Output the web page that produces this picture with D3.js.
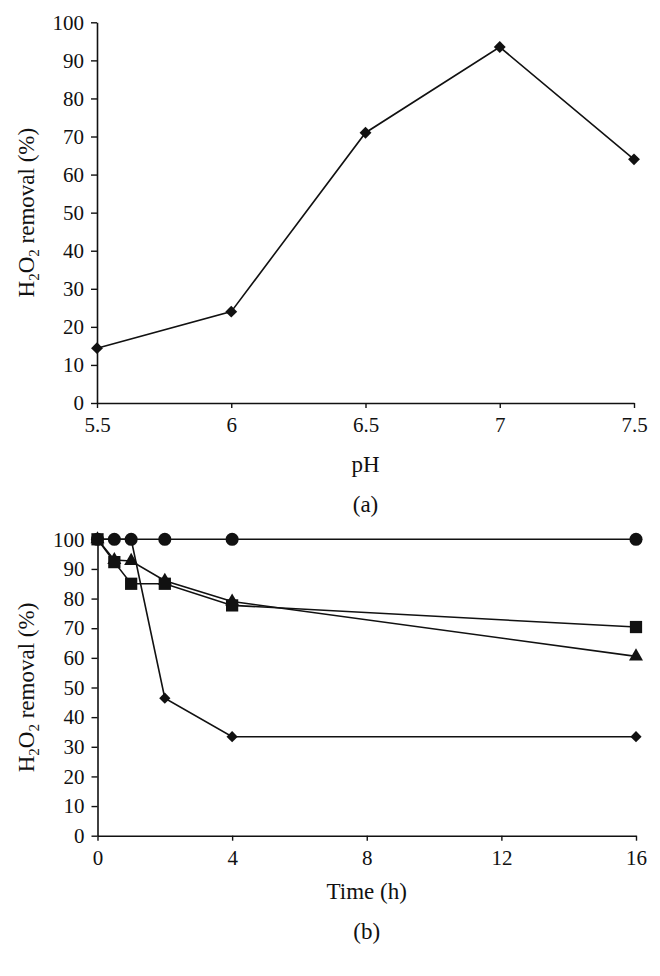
<!DOCTYPE html>
<html><head><meta charset="utf-8">
<script src="https://cdn.jsdelivr.net/npm/d3@7"></script>
<style>body{margin:0;background:#fff}svg{display:block}text{font-family:"Liberation Serif","Times New Roman",serif;fill:#111}</style>
</head><body>
<script>
// Panel (a)
const phValues = [5.5, 6, 6.5, 7, 7.5];
const phRemoval = [14.4, 24, 71, 93.5, 64];
const phTicks = ["5.5", "6", "6.5", "7", "7.5"];
// Panel (b)
const timeValues = [0, 0.5, 1, 2, 4, 16];
const seriesCircle = [100, 100, 100, 100, 100, 100];
const seriesSquare = [100, 92.3, 85, 85, 77.7, 70.4];
const seriesTriangle = [100, 93, 92.7, 86, 79, 60.5];
const seriesDiamond = [100, 100, 100, 46.4, 33.4, 33.4];
const timeTicks = [0, 4, 8, 12, 16];
const yTicks = [0, 10, 20, 30, 40, 50, 60, 70, 80, 90, 100];

const svg = d3.select("body").append("svg").attr("width", 660).attr("height", 976);
const ink = "#111";
const FONT = '"Liberation Serif", "Times New Roman", serif';

function axes(g, x, y, xTicks, xFmt, xLabel, panel, labelY, panelY, titleCx) {
  const ya = g.append("g").attr("transform", `translate(${x.range()[0]},0)`)
    .call(d3.axisLeft(y).tickValues(yTicks).tickSize(6).tickSizeOuter(0).tickPadding(7));
  const xa = g.append("g").attr("transform", `translate(0,${y.range()[0]})`)
    .call(d3.axisBottom(x).tickValues(xTicks).tickFormat(xFmt).tickSize(5).tickSizeOuter(0).tickPadding(9));
  [ya, xa].forEach(a => {
    a.attr("font-family", FONT).attr("font-size", 21);
    a.select(".domain").attr("stroke", ink).attr("stroke-width", 1.6);
    a.selectAll(".tick line").attr("stroke", ink).attr("stroke-width", 1.4);
    a.selectAll(".tick text").attr("fill", ink);
  });
  const cx = (x.range()[0] + x.range()[1]) / 2;
  g.append("text").attr("x", cx).attr("y", labelY).attr("text-anchor", "middle")
    .attr("font-size", 23).text(xLabel);
  g.append("text").attr("x", cx).attr("y", panelY).attr("text-anchor", "middle")
    .attr("font-size", 23).text(panel);
  const cy = (y.range()[0] + y.range()[1]) / 2;
  const t = g.append("text").attr("transform", `translate(${titleCx},${cy}) rotate(-90)`)
    .attr("text-anchor", "middle").attr("font-size", 23);
  t.append("tspan").text("H");
  t.append("tspan").attr("font-size", 15).attr("dy", 5).text("2");
  t.append("tspan").attr("dy", -5).text("O");
  t.append("tspan").attr("font-size", 15).attr("dy", 5).text("2");
  t.append("tspan").attr("dy", -5).text(" removal (%)");
}

// ---- Panel (a)
const xa = d3.scaleLinear().domain([5.5, 7.5]).range([97, 634]);
const ya = d3.scaleLinear().domain([0, 100]).range([403, 22.3]);
const ga = svg.append("g");
axes(ga, xa, ya, phValues, (d, i) => phTicks[i], "pH", "(a)", 472, 512, 34);
const dataA = phValues.map((v, i) => [v, phRemoval[i]]);
ga.append("path").datum(dataA)
  .attr("d", d3.line().x(d => xa(d[0])).y(d => ya(d[1])))
  .attr("fill", "none").attr("stroke", ink).attr("stroke-width", 1.6);
ga.selectAll(".dia").data(dataA).join("path")
  .attr("transform", d => `translate(${xa(d[0])},${ya(d[1])})`)
  .attr("d", d3.symbol(d3.symbolDiamond2, 90)).attr("fill", ink);

// ---- Panel (b)
const xb = d3.scaleLinear().domain([0, 16]).range([97.5, 636]);
const yb = d3.scaleLinear().domain([0, 100]).range([835.7, 539.3]);
const gb = svg.append("g");
axes(gb, xb, yb, timeTicks, d3.format("d"), "Time (h)", "(b)", 899, 939, 34);

const series = [
  {vals: seriesDiamond, sym: d3.symbolDiamond2, size: 80},
  {vals: seriesTriangle, sym: d3.symbolTriangle, size: 85},
  {vals: seriesSquare, sym: d3.symbolSquare, size: 150},
  {vals: seriesCircle, sym: d3.symbolCircle, size: 135}
];
series.forEach(s => {
  const data = timeValues.map((t, i) => [t, s.vals[i]]);
  gb.append("path").datum(data)
    .attr("d", d3.line().x(d => xb(d[0])).y(d => yb(d[1])))
    .attr("fill", "none").attr("stroke", ink).attr("stroke-width", 1.6);
});
series.forEach(s => {
  const data = timeValues.map((t, i) => [t, s.vals[i]]);
  gb.selectAll(null).data(data).join("path")
    .attr("transform", d => `translate(${xb(d[0])},${yb(d[1])})`)
    .attr("d", d3.symbol(s.sym, s.size)).attr("fill", ink);
});
</script>
</body></html>
